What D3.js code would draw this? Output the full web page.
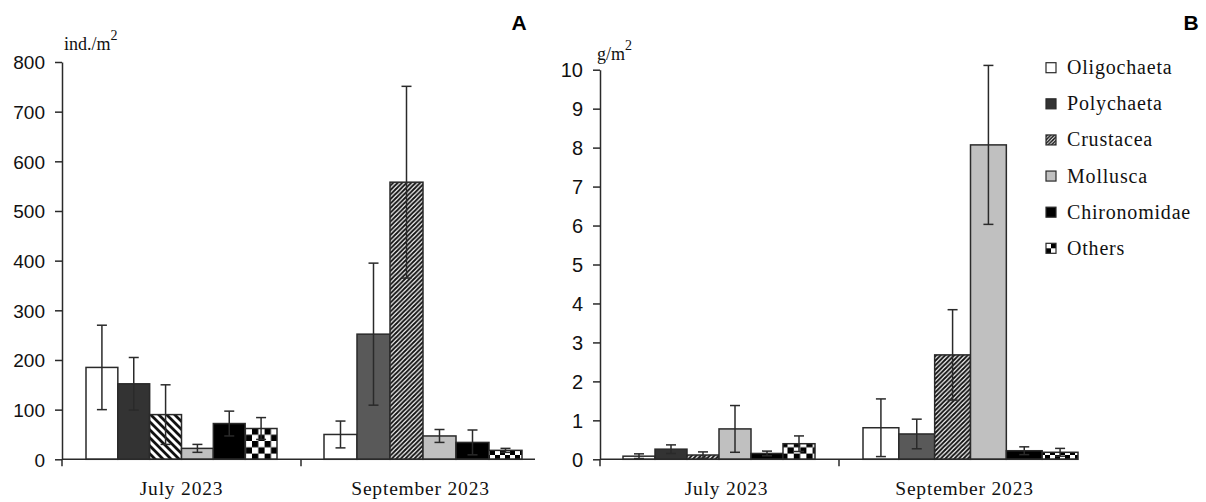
<!DOCTYPE html>
<html>
<head>
<meta charset="UTF-8" />
<title>Zoobenthos density and biomass</title>
<script src="https://d3js.org/d3.v7.min.js"></script>
<style>
body { margin: 0; background: #fff; }
svg { display: block; }
.tick text { font-family: "Liberation Sans", Arial, sans-serif; fill: #111; }
.serif { font-family: "Liberation Serif", "Times New Roman", serif; fill: #111; }
</style>
</head>
<body>
<svg id="chart" width="1206" height="502"></svg>
<script>
// taxa, months and values
var taxa = ["Oligochaeta", "Polychaeta", "Crustacea", "Mollusca", "Chironomidae", "Others"];
var months = ["July 2023", "September 2023"];

// A: density, ind./m2
var densJul = [185, 152, 90, 22, 72, 62];
var densJulErr = [85, 53, 60, 8, 25, 22];
var densSep = [50, 252, 558, 47, 34, 18];
var densSepErr = [27, 143, 193, 13, 25, 4];
var densTicks = [0, 100, 200, 300, 400, 500, 600, 700, 800];

// B: biomass, g/m2
var bioJul = [0.08, 0.26, 0.11, 0.78, 0.15, 0.40];
var bioJulErr = [0.06, 0.11, 0.08, 0.60, 0.06, 0.20];
var bioSep = [0.81, 0.65, 2.68, 8.07, 0.22, 0.18];
var bioSepErr = [0.74, 0.38, 1.16, 2.04, 0.10, 0.10];
var bioTicks = [0, 1, 2, 3, 4, 5, 6, 7, 8, 9, 10];

var svg = d3.select("#chart");
var stroke = "#2a2a2a";

// patterns
var defs = svg.append("defs");
function hatch(id, size, dir, w) {
  var p = defs.append("pattern").attr("id", id).attr("patternUnits", "userSpaceOnUse")
    .attr("width", size).attr("height", size);
  p.append("rect").attr("width", size).attr("height", size).attr("fill", "#fff");
  var d = dir > 0
    ? "M0," + size + " L" + size + ",0 M-1,1 L1,-1 M" + (size - 1) + "," + (size + 1) + " L" + (size + 1) + "," + (size - 1)
    : "M0,0 L" + size + "," + size + " M-1," + (size - 1) + " L1," + (size + 1) + " M" + (size - 1) + ",-1 L" + (size + 1) + ",1";
  p.append("path").attr("d", d).attr("stroke", "#111").attr("stroke-width", w);
}
hatch("hatchFine", 4.5, 1, 2);
hatch("hatchWide", 8, -1, 2.8);
hatch("hatchLeg", 3.5, 1, 1.5);
function checker(id, c) {
  var p = defs.append("pattern").attr("id", id).attr("patternUnits", "userSpaceOnUse")
    .attr("width", c * 2).attr("height", c * 2);
  p.append("rect").attr("width", c * 2).attr("height", c * 2).attr("fill", "#fff");
  p.append("rect").attr("width", c).attr("height", c).attr("fill", "#000");
  p.append("rect").attr("x", c).attr("y", c).attr("width", c).attr("height", c).attr("fill", "#000");
}
checker("check", 6.3);
checker("checkSmall", 5);
checker("checkLeg", 5);

function fillFor(t, panel, m) {
  if (t === 0) return "#fff";
  if (t === 1) return m === 0 ? "#333" : "#595959";
  if (t === 2) return (panel === 0 && m === 0) ? "url(#hatchWide)" : "url(#hatchFine)";
  if (t === 3) return "#c0c0c0";
  if (t === 4) return "#000";
  return (m === 0) ? "url(#check)" : "url(#checkSmall)";
}

var baseY = 459.3;

function drawPanel(cfg) {
  var g = svg.append("g");
  var y = d3.scaleLinear().domain([0, cfg.ticks[cfg.ticks.length - 1]]).range([baseY, cfg.top]);
  var x = d3.scaleBand().domain(months).range([cfg.x0, cfg.x1]);

  // bars + error bars
  months.forEach(function(m, mi) {
    var vals = cfg.values[mi], errs = cfg.errors[mi];
    var pad = cfg.pads[mi];
    var inner = d3.scaleBand().domain(taxa)
      .range([x(m) + pad[0], x(m) + x.bandwidth() - pad[1]]);
    var grp = g.append("g");
    grp.selectAll("rect").data(taxa).enter().append("rect")
      .attr("x", function(d) { return inner(d); })
      .attr("y", function(d, i) { return y(vals[i]); })
      .attr("width", inner.bandwidth())
      .attr("height", function(d, i) { return baseY - y(vals[i]); })
      .attr("fill", function(d, i) { return fillFor(i, cfg.id, mi); })
      .attr("stroke", stroke).attr("stroke-width", 1.5);
    var eb = grp.selectAll("g.err").data(taxa).enter().append("g").attr("class", "err")
      .attr("stroke", stroke).attr("stroke-width", 1.5);
    eb.append("line")
      .attr("x1", function(d) { return inner(d) + inner.bandwidth() / 2; })
      .attr("x2", function(d) { return inner(d) + inner.bandwidth() / 2; })
      .attr("y1", function(d, i) { return y(vals[i] + errs[i]); })
      .attr("y2", function(d, i) { return y(Math.max(0, vals[i] - errs[i])); });
    [1, -1].forEach(function(s) {
      eb.append("line")
        .attr("x1", function(d) { return inner(d) + inner.bandwidth() / 2 - 5; })
        .attr("x2", function(d) { return inner(d) + inner.bandwidth() / 2 + 5; })
        .attr("y1", function(d, i) { return y(Math.max(0, vals[i] + s * errs[i])); })
        .attr("y2", function(d, i) { return y(Math.max(0, vals[i] + s * errs[i])); });
    });
  });

  // y axis
  var ax = g.append("g").attr("transform", "translate(" + cfg.x0 + ",0)")
    .call(d3.axisLeft(y).tickValues(cfg.ticks).tickSize(7).tickSizeOuter(0).tickPadding(10));
  ax.selectAll("path, line").attr("stroke", stroke).attr("stroke-width", 1.5);
  ax.selectAll("text").attr("font-size", cfg.tickFont).attr("dy", "0.36em");

  // x axis
  g.append("line").attr("x1", cfg.x0).attr("x2", cfg.xEnd).attr("y1", baseY).attr("y2", baseY)
    .attr("stroke", stroke).attr("stroke-width", 1.5);
  [cfg.x0, x(months[1])].forEach(function(px) {
    g.append("line").attr("x1", px).attr("x2", px).attr("y1", baseY).attr("y2", baseY + 7)
      .attr("stroke", stroke).attr("stroke-width", 1.5);
  });
  months.forEach(function(m, mi) {
    g.append("text").attr("class", "serif")
      .attr("x", x(m) + x.bandwidth() / 2 + cfg.labelShift[mi]).attr("y", 495)
      .attr("text-anchor", "middle").attr("font-size", 19.5)
      .attr("letter-spacing", 0.8).text(m);
  });

  // unit label
  var u = g.append("text").attr("class", "serif").attr("x", cfg.unitX).attr("y", cfg.unitY)
    .attr("font-size", 18);
  u.append("tspan").text(cfg.unit);
  u.append("tspan").attr("dy", -10).attr("font-size", 14).text("2");

  // panel letter
  g.append("text").attr("x", cfg.letterX).attr("y", 30).attr("text-anchor", "middle")
    .attr("font-family", "Liberation Sans, Arial, sans-serif").attr("font-weight", "bold")
    .attr("font-size", 21).attr("fill", "#000").text(cfg.letter);
}

drawPanel({
  id: 0, x0: 62, x1: 540, xEnd: 535, top: 62, ticks: densTicks, tickFont: 19,
  values: [densJul, densSep], errors: [densJulErr, densSepErr],
  pads: [[24, 24], [23, 18]], labelShift: [0, 0],
  unit: "ind./m", unitX: 64, unitY: 50, letter: "A", letterX: 519
});
drawPanel({
  id: 1, x0: 600, x1: 1078, xEnd: 1078, top: 69.7, ticks: bioTicks, tickFont: 20,
  values: [bioJul, bioSep], errors: [bioJulErr, bioSepErr],
  pads: [[23, 24], [24, 0]], labelShift: [7, 6],
  unit: "g/m", unitX: 597, unitY: 60, letter: "B", letterX: 1191
});

// legend
var legFill = ["#fff", "#333", "url(#hatchLeg)", "#c0c0c0", "#000", "url(#checkLeg)"];
var legY = d3.scalePoint().domain(taxa).range([67.7, 248.3]);
var leg = svg.append("g").selectAll("g").data(taxa).enter().append("g")
  .attr("transform", function(d) { return "translate(1046," + legY(d) + ")"; });
leg.append("rect").attr("x", 0).attr("y", -5).attr("width", 10).attr("height", 10)
  .attr("fill", function(d, i) { return legFill[i]; })
  .attr("stroke", stroke).attr("stroke-width", 1.2);
leg.append("text").attr("class", "serif").attr("x", 21).attr("y", 6.5)
  .attr("font-size", 20).attr("letter-spacing", 0.8).text(function(d) { return d; });
</script>
</body>
</html>
